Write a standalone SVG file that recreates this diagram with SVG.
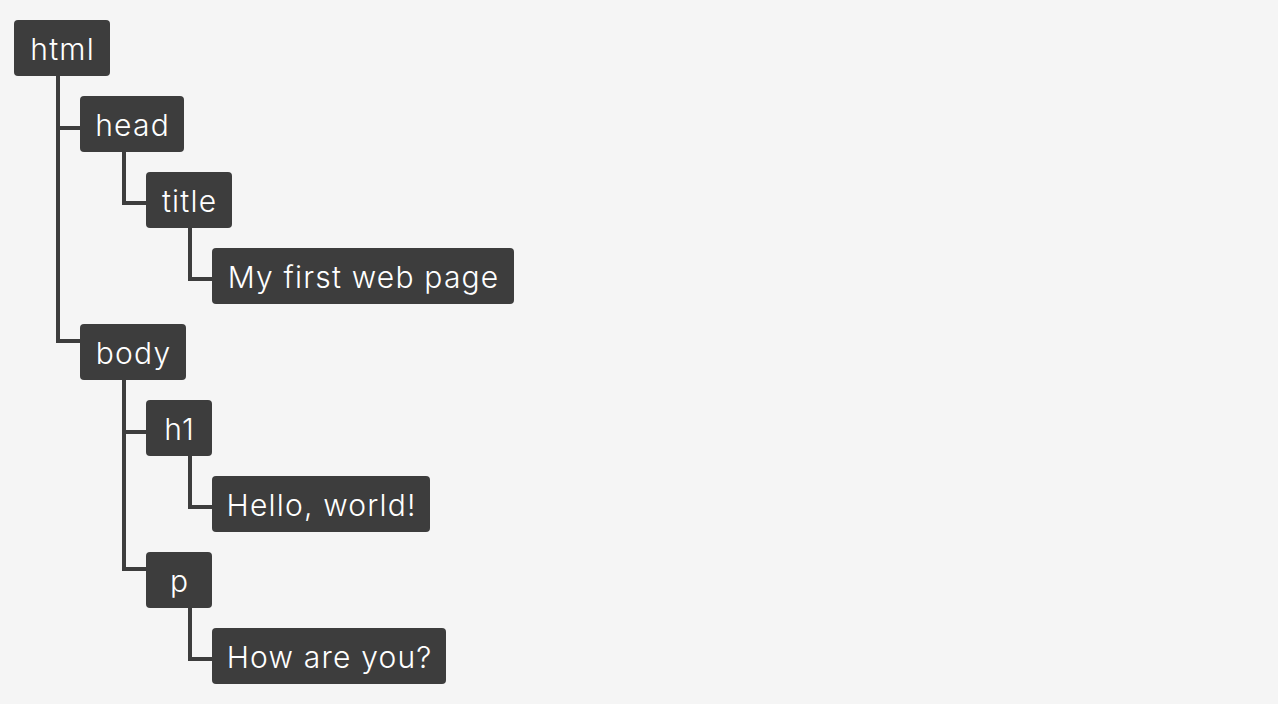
<svg xmlns="http://www.w3.org/2000/svg" width="1278" height="704" viewBox="0 0 1278 704">
<style>
.n rect{fill:#3d3d3d;}
.n text{fill:#ffffff;font-family:Inter,"Noto Sans","Liberation Sans",sans-serif;font-size:30px;font-weight:300;letter-spacing:1.2px;text-anchor:middle;}
.c path{fill:none;stroke:#3d3d3d;stroke-width:4;stroke-linejoin:miter;stroke-linecap:butt;}
</style>
<rect width="1278" height="704" fill="#f5f5f5"/>
<g id="connectors" class="c">
<path d="M58 76 V128 H80"/>
<path d="M58 128 V341 H80"/>
<path d="M124 152 V203 H146"/>
<path d="M190 228 V279 H212"/>
<path d="M124 380 V432 H146"/>
<path d="M124 432 V569 H146"/>
<path d="M190 456 V507 H212"/>
<path d="M190 608 V659 H212"/>
</g>
<g id="html" class="n"><rect x="14" y="20" width="96" height="56" rx="4"/><text x="62.6" y="59.5">html</text></g>
<g id="head" class="n"><rect x="80" y="96" width="104" height="56" rx="4"/><text x="132.6" y="135.5">head</text></g>
<g id="title" class="n"><rect x="146" y="172" width="86" height="56" rx="4"/><text x="189.6" y="211.5">title</text></g>
<g id="title-text" class="n"><rect x="212" y="248" width="302" height="56" rx="4"/><text x="363.6" y="287.5">My first web page</text></g>
<g id="body" class="n"><rect x="80" y="324" width="106" height="56" rx="4"/><text x="133.6" y="363.5">body</text></g>
<g id="h1" class="n"><rect x="146" y="400" width="66" height="56" rx="4"/><text x="179.6" y="439.5">h1</text></g>
<g id="h1-text" class="n"><rect x="212" y="476" width="218" height="56" rx="4"/><text x="321.6" y="515.5">Hello, world!</text></g>
<g id="p" class="n"><rect x="146" y="552" width="66" height="56" rx="4"/><text x="179.6" y="591.5">p</text></g>
<g id="p-text" class="n"><rect x="212" y="628" width="234" height="56" rx="4"/><text x="329.6" y="667.5">How are you?</text></g>
</svg>
